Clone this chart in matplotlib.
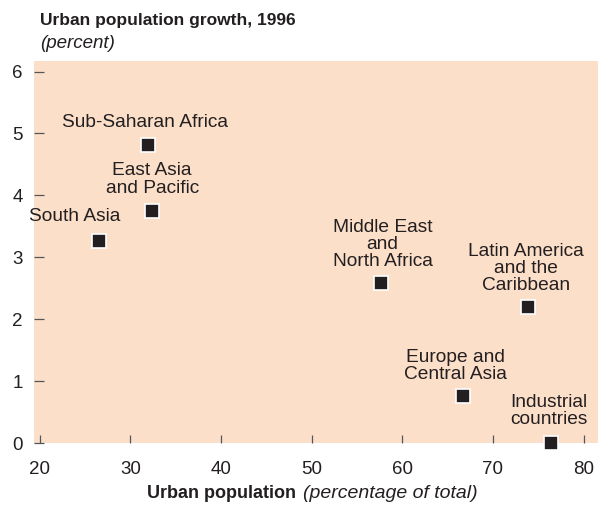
import matplotlib.pyplot as plt

plt.rcParams['font.family'] = ['Liberation Sans', 'DejaVu Sans']

regions = ['Sub-Saharan Africa', 'East Asia\nand Pacific', 'South Asia',
           'Middle East\nand\nNorth Africa', 'Latin America\nand the\nCaribbean',
           'Europe and\nCentral Asia', 'Industrial\ncountries']
urban_pct = [31.9, 32.4, 26.5, 57.7, 73.9, 66.7, 76.4]
urban_growth = [4.82, 3.74, 3.27, 2.58, 2.19, 0.76, 0.0]
# label offsets from marker, in pixels
label_dx = [-3, 0, -24, 1, -2, -8, -2]
label_dy = [22, 32, 24, 39, 39, 30, 32]

text_col = '#231f20'
bg = '#fcdfc9'

fig = plt.figure(figsize=(5.98, 5.08), dpi=100)
ax = fig.add_axes([34 / 598, 65 / 508, 564 / 598, 382 / 508])
ax.set_facecolor(bg)

ax.plot(urban_pct, urban_growth, linestyle='none', marker='s', markersize=9.5,
        markerfacecolor=text_col, markeredgecolor='white', markeredgewidth=1.2,
        clip_on=False, zorder=3)

for name, x, y, dx, dy in zip(regions, urban_pct, urban_growth, label_dx, label_dy):
    ax.annotate(name, (x, y), xytext=(dx, dy), textcoords='offset pixels',
                ha='center', va='center', multialignment='center',
                fontsize=13.8, color=text_col, linespacing=1.02)

ax.set_xlim(19.35, 81.6)
ax.set_ylim(0, 6.17)
ax.set_xticks([20, 30, 40, 50, 60, 70, 80])
ax.set_yticks([0, 1, 2, 3, 4, 5, 6])
for s in ax.spines.values():
    s.set_visible(False)
ax.tick_params(axis='x', direction='in', length=6, width=0.9, color='#555555',
               pad=13, labelsize=13.5, labelcolor=text_col)
ax.tick_params(axis='y', direction='in', length=7, width=0.9, color='#555555',
               pad=8, labelsize=13.5, labelcolor=text_col)

fig.text(40 / 598, 1 - 21 / 508, 'Urban population growth, 1996', fontsize=12.5,
         fontweight='bold', color=text_col, va='center', ha='left')
fig.text(40 / 598, 1 - 43 / 508, '(percent)', fontsize=13.5, fontstyle='italic',
         color=text_col, va='center', ha='left')

fig.text(296 / 598, 1 - 494 / 508, 'Urban population', fontsize=13,
         fontweight='bold', color=text_col, va='center', ha='right')
fig.text(303 / 598, 1 - 494 / 508, '(percentage of total)', fontsize=14,
         fontstyle='italic', color=text_col, va='center', ha='left')

fig.savefig('out.png', dpi=100, facecolor='white')
